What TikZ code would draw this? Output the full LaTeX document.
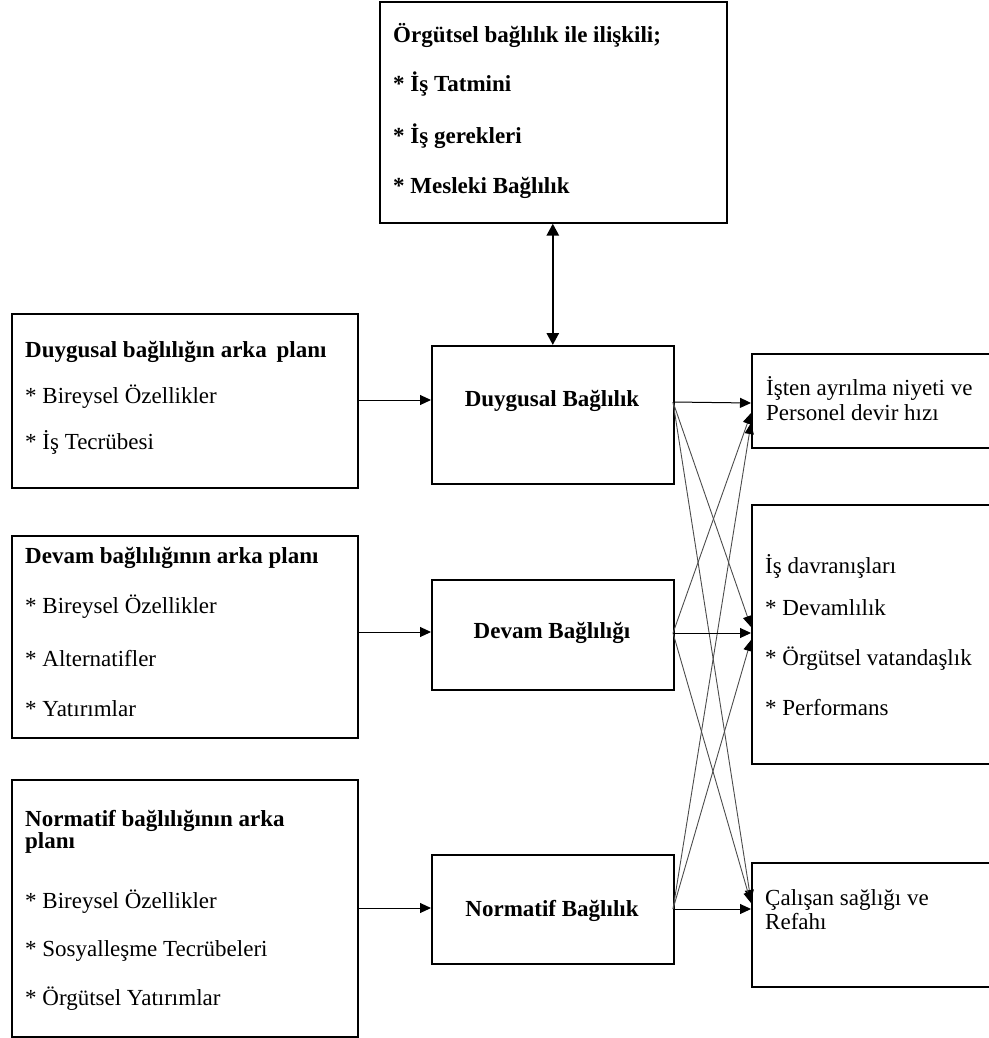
\documentclass[tikz,border=0pt]{standalone}
\usepackage{fontspec}
\setmainfont{Liberation Serif}
\usetikzlibrary{arrows.meta}
\begin{document}
\begin{tikzpicture}[x=1pt,y=-1pt,
  box/.style={draw=black,line width=1.6pt,anchor=north west,inner sep=0pt},
  txt/.style={anchor=base west,inner sep=0pt,font=\fontsize{23}{25}\selectfont},
  btxt/.style={txt,font=\fontsize{23}{25}\selectfont\bfseries},
  ctxt/.style={anchor=base,inner sep=0pt,font=\fontsize{23}{25}\selectfont\bfseries},
  link/.style={line width=1pt,-{Triangle[length=11pt,width=10pt]}},
  fan/.style={line width=0.9pt,draw=black!70,-{Triangle[length=11pt,width=9pt,color=black]}},
  both/.style={line width=2.6pt,{Triangle[length=12pt,width=12pt]}-{Triangle[length=12pt,width=12pt]}}]
\useasboundingbox (0,0) rectangle (988,1038);

% boxes
\node[box,minimum width=347pt,minimum height=221pt] (top) at (379,1) {};
\node[box,minimum width=346pt,minimum height=174pt] (ant1) at (11,313) {};
\node[box,minimum width=346pt,minimum height=202pt] (ant2) at (11,535) {};
\node[box,minimum width=346pt,minimum height=257pt] (ant3) at (11,779) {};
\node[box,minimum width=242pt,minimum height=138pt] (duy) at (431,345) {};
\node[box,minimum width=242pt,minimum height=110pt] (dev) at (431,579) {};
\node[box,minimum width=242pt,minimum height=109pt] (nor) at (431,854) {};
\node[box,minimum width=238pt,minimum height=94pt] (out1) at (751,353) {};
\node[box,minimum width=238pt,minimum height=259pt] (out2) at (751,504) {};
\node[box,minimum width=238pt,minimum height=124pt] (out3) at (751,862) {};

% texts
\node[btxt] (t1) at (393,43) {Örgütsel bağlılık ile ilişkili;};
\node[btxt] (t2) at (393,92) {* İş Tatmini};
\node[btxt] (t3) at (393,143) {* İş gerekleri};
\node[btxt] (t4) at (393,193) {* Mesleki Bağlılık};

\node[btxt] (a11) at (25,357) {Duygusal bağlılığın arka\hspace{0.43em}planı};
\node[txt] (a12) at (25,403) {* Bireysel Özellikler};
\node[txt] (a13) at (25,449) {* İş Tecrübesi};

\node[btxt] (a21) at (25,563) {Devam bağlılığının arka planı};
\node[txt] (a22) at (25,613) {* Bireysel Özellikler};
\node[txt] (a23) at (25,666) {* Alternatifler};
\node[txt] (a24) at (25,716) {* Yatırımlar};

\node[btxt] (a31) at (25,826) {Normatif bağlılığının arka};
\node[btxt] (a32) at (25,848) {planı};
\node[txt] (a33) at (25,908) {* Bireysel Özellikler};
\node[txt] (a34) at (25,956) {* Sosyalleşme Tecrübeleri};
\node[txt] (a35) at (25,1005) {* Örgütsel Yatırımlar};

\node[ctxt] (m1) at (552,406) {Duygusal Bağlılık};
\node[ctxt] (m2) at (552,638) {Devam Bağlılığı};
\node[ctxt] (m3) at (552,916) {Normatif Bağlılık};

\node[txt] (o11) at (766,395) {İşten ayrılma niyeti ve};
\node[txt] (o12) at (766,420) {Personel devir hızı};
\node[txt] (o21) at (765,573) {İş davranışları};
\node[txt] (o22) at (765,615) {* Devamlılık};
\node[txt] (o23) at (765,665) {* Örgütsel vatandaşlık};
\node[txt] (o24) at (765,715) {* Performans};
\node[txt] (o31) at (765,905) {Çalışan sağlığı ve};
\node[txt] (o32) at (765,929) {Refahı};

% connection points on the box edges
\coordinate (dS) at (673,402);
\coordinate (vS) at (673,633);
\coordinate (nS) at (673,909);
\coordinate (e1a) at (751,403);
\coordinate (e1b) at (751,413);
\coordinate (e1c) at (751,423);
\coordinate (e2a) at (751,627);
\coordinate (e2b) at (751,633);
\coordinate (e2c) at (751,640);
\coordinate (e3a) at (751,901);
\coordinate (e3b) at (751,903);
\coordinate (e3c) at (751,909);

% antecedents to commitment types
\draw[link] (ant1.east |- 0,400) -- (duy.west |- 0,400);
\draw[link] (ant2.east |- 0,632) -- (dev.west |- 0,632);
\draw[link] (ant3.east |- 0,908) -- (nor.west |- 0,908);

% related concepts
\draw[both] (duy.north |- top.south) -- (duy.north);

% commitment types to outcomes
\draw[fan] (dS) -- (e2a);
\draw[fan] (dS) -- (e3a);
\draw[fan] (vS) -- (e1b);
\draw[fan] (vS) -- (e3b);
\draw[fan] (nS) -- (e1c);
\draw[fan] (nS) -- (e2c);
\draw[link] (dS) -- (e1a);
\draw[link] (vS) -- (e2b);
\draw[link] (nS) -- (e3c);
\end{tikzpicture}
\end{document}
